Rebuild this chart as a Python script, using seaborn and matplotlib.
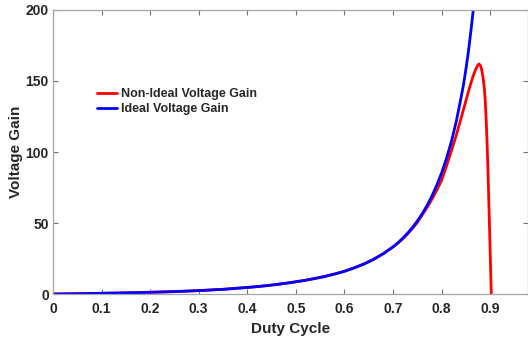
import matplotlib
matplotlib.use("Agg")
import matplotlib.pyplot as plt
import seaborn as sns
import pandas as pd

# Duty cycle samples and gains for the ideal converter
ideal_duty = [0.0, 0.05, 0.1, 0.15, 0.2, 0.25, 0.3, 0.35, 0.4, 0.42, 0.44, 0.46,
              0.48, 0.5, 0.52, 0.54, 0.56, 0.58, 0.6, 0.62, 0.64, 0.66, 0.68,
              0.7, 0.71, 0.72, 0.73, 0.74, 0.75, 0.76, 0.77, 0.78, 0.79, 0.8,
              0.81, 0.82, 0.83, 0.84, 0.845, 0.85, 0.855, 0.86, 0.865, 0.87]
ideal_gain = [0.0, 0.2, 0.5, 0.8, 1.2, 1.7, 2.4, 3.3, 4.6, 5.2, 5.9, 6.7,
              7.6, 8.6, 9.7, 11.0, 12.4, 14.1, 16.0, 18.4, 21.1, 24.4, 28.4,
              33.2, 36.0, 39.2, 42.8, 46.8, 51.3, 56.4, 62.2, 68.9, 76.5, 85.2,
              95.3, 107.0, 121.0, 138.0, 147.0, 158.0, 170.0, 184.0, 199.0, 216.0]

# Duty cycle samples and gains with parasitic losses included
nonideal_duty = [0.0, 0.05, 0.1, 0.15, 0.2, 0.25, 0.3, 0.35, 0.4, 0.42, 0.44, 0.46,
                 0.48, 0.5, 0.52, 0.54, 0.56, 0.58, 0.6, 0.62, 0.64, 0.66, 0.68,
                 0.7, 0.71, 0.72, 0.73, 0.74, 0.75, 0.76, 0.77, 0.78, 0.79, 0.8,
                 0.81, 0.82, 0.83, 0.84, 0.85, 0.855, 0.86, 0.865, 0.87, 0.874,
                 0.877, 0.88, 0.883, 0.886, 0.888, 0.89, 0.892, 0.894, 0.896,
                 0.898, 0.9, 0.902, 0.9025]
nonideal_gain = [0.0, 0.2, 0.5, 0.8, 1.2, 1.7, 2.4, 3.3, 4.6, 5.2, 5.9, 6.7,
                 7.6, 8.6, 9.7, 11.0, 12.4, 14.1, 16.0, 18.4, 21.1, 24.4, 28.4,
                 33.1, 35.8, 38.9, 42.3, 46.1, 50.3, 55.6, 60.8, 66.6, 73.0, 80.0,
                 90.0, 100.5, 111.5, 123.5, 136.0, 142.0, 148.0, 153.5, 158.0, 160.8,
                 162.0, 161.0, 157.5, 151.0, 145.0, 136.0, 122.0, 104.0, 82.0,
                 57.0, 31.0, 5.0, 0.0]

x_ticks = [0, 0.1, 0.2, 0.3, 0.4, 0.5, 0.6, 0.7, 0.8, 0.9]
x_tick_labels = ["0", "0.1", "0.2", "0.3", "0.4", "0.5", "0.6", "0.7", "0.8", "0.9"]
y_ticks = [0, 50, 100, 150, 200]

sns.set_theme(style="white")
plt.rcParams["font.family"] = ["Liberation Sans", "DejaVu Sans"]
plt.rcParams["font.weight"] = "bold"

nonideal = pd.DataFrame({"duty": nonideal_duty, "gain": nonideal_gain})
ideal = pd.DataFrame({"duty": ideal_duty, "gain": ideal_gain})

fig = plt.figure(figsize=(5.28, 3.41), dpi=100)
ax = fig.add_axes([0.1004, 0.1378, 0.8996, 0.8329])

sns.lineplot(data=nonideal, x="duty", y="gain", ax=ax, color="#ff0000",
             linewidth=2.0, sort=False, label="Non-Ideal Voltage Gain")
sns.lineplot(data=ideal, x="duty", y="gain", ax=ax, color="#0000ff",
             linewidth=2.0, sort=False, label="Ideal Voltage Gain")

ax.set_xlim(0, 0.978)
ax.set_ylim(0, 200)
ax.set_xticks(x_ticks)
ax.set_xticklabels(x_tick_labels)
ax.set_yticks(y_ticks)

axis_grey = "#a6a6a6"
for side in ["left", "bottom", "top", "right"]:
    ax.spines[side].set_visible(True)
    ax.spines[side].set_color(axis_grey)
    ax.spines[side].set_linewidth(0.9)
ax.tick_params(axis="both", direction="in", length=3.5, width=0.8, color="#707070",
               labelsize=10, labelcolor="#262626",
               top=True, right=True, bottom=True, left=True)
ax.tick_params(axis="x", pad=6)
ax.tick_params(axis="y", pad=3)
for lab in ax.get_xticklabels() + ax.get_yticklabels():
    lab.set_fontweight("bold")

ax.set_xlabel("Duty Cycle", fontsize=11, fontweight="bold", color="#262626", labelpad=4)
ax.set_ylabel("Voltage Gain", fontsize=11, fontweight="bold", color="#262626", labelpad=2)

leg = ax.legend(loc="upper left", bbox_to_anchor=(0.093, 0.724), frameon=False,
                fontsize=9, handlelength=1.6, handletextpad=0.3,
                borderpad=0, borderaxespad=0, labelspacing=0.2)
for t in leg.get_texts():
    t.set_fontweight("bold")
    t.set_color("#262626")

fig.savefig("out.png", dpi=100)
